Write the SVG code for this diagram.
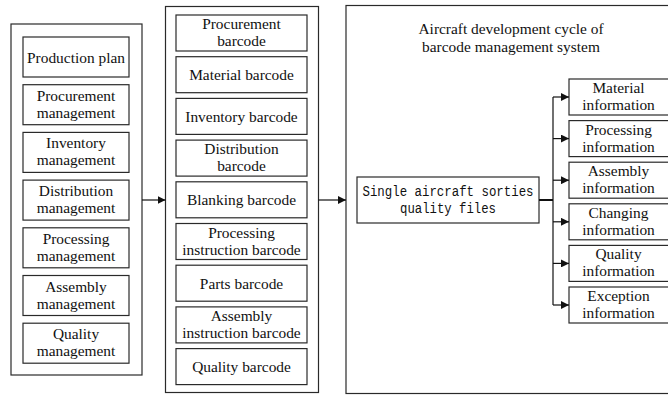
<svg xmlns="http://www.w3.org/2000/svg" width="668" height="396" viewBox="0 0 668 396">
  <style>
    .box { fill: #fff; stroke: #2a2a2a; stroke-width: 1.2; }
    .t { font-family: "Liberation Serif", "Times New Roman", serif; font-size: 15.4px; fill: #111; text-anchor: middle; }
    .m { font-family: "Liberation Mono", "Courier New", monospace; font-size: 14px; fill: #111; text-anchor: middle; }
    .link { fill: none; stroke: #111; stroke-width: 1.2; }
  </style>
  <defs>
    <marker id="arrow" viewBox="0 0 10 10" refX="10" refY="5" markerWidth="8" markerHeight="8" markerUnits="userSpaceOnUse" orient="auto">
      <path d="M0,0 L10,5 L0,10 z" fill="#111"/>
    </marker>
  </defs>
  <rect width="668" height="396" fill="#fff"/>

  <!-- management modules -->
  <g id="management">
    <rect class="box" x="11" y="24" width="131" height="351"/>
    <g id="production-plan"><rect class="box" x="23" y="37" width="106" height="40"/><text class="t" x="76" y="63">Production plan</text></g>
    <g id="procurement-management"><rect class="box" x="23" y="84.7" width="106" height="40"/><text class="t" x="76" y="100.7">Procurement</text><text class="t" x="76" y="117.7">management</text></g>
    <g id="inventory-management"><rect class="box" x="23" y="132.4" width="106" height="40"/><text class="t" x="76" y="148.4">Inventory</text><text class="t" x="76" y="165.4">management</text></g>
    <g id="distribution-management"><rect class="box" x="23" y="180.1" width="106" height="40"/><text class="t" x="76" y="196.1">Distribution</text><text class="t" x="76" y="213.1">management</text></g>
    <g id="processing-management"><rect class="box" x="23" y="227.8" width="106" height="40"/><text class="t" x="76" y="243.8">Processing</text><text class="t" x="76" y="260.8">management</text></g>
    <g id="assembly-management"><rect class="box" x="23" y="275.5" width="106" height="40"/><text class="t" x="76" y="291.5">Assembly</text><text class="t" x="76" y="308.5">management</text></g>
    <g id="quality-management"><rect class="box" x="23" y="323.2" width="106" height="40"/><text class="t" x="76" y="339.2">Quality</text><text class="t" x="76" y="356.2">management</text></g>
  </g>

  <!-- barcode types -->
  <g id="barcodes">
    <rect class="box" x="165.5" y="6.5" width="153" height="386"/>
    <g id="procurement-barcode"><rect class="box" x="176" y="15" width="131" height="36"/><text class="t" x="241.5" y="29">Procurement</text><text class="t" x="241.5" y="46">barcode</text></g>
    <g id="material-barcode"><rect class="box" x="176" y="56.7" width="131" height="36"/><text class="t" x="241.5" y="80.2">Material barcode</text></g>
    <g id="inventory-barcode"><rect class="box" x="176" y="98.4" width="131" height="36"/><text class="t" x="241.5" y="121.9">Inventory barcode</text></g>
    <g id="distribution-barcode"><rect class="box" x="176" y="140.1" width="131" height="36"/><text class="t" x="241.5" y="154.1">Distribution</text><text class="t" x="241.5" y="171.1">barcode</text></g>
    <g id="blanking-barcode"><rect class="box" x="176" y="181.8" width="131" height="36"/><text class="t" x="241.5" y="205.3">Blanking barcode</text></g>
    <g id="processing-instruction-barcode"><rect class="box" x="176" y="223.5" width="131" height="36"/><text class="t" x="241.5" y="237.5">Processing</text><text class="t" x="241.5" y="254.5">instruction barcode</text></g>
    <g id="parts-barcode"><rect class="box" x="176" y="265.2" width="131" height="36"/><text class="t" x="241.5" y="288.7">Parts barcode</text></g>
    <g id="assembly-instruction-barcode"><rect class="box" x="176" y="306.9" width="131" height="36"/><text class="t" x="241.5" y="320.9">Assembly</text><text class="t" x="241.5" y="337.9">instruction barcode</text></g>
    <g id="quality-barcode"><rect class="box" x="176" y="348.6" width="131" height="36"/><text class="t" x="241.5" y="372.1">Quality barcode</text></g>
  </g>

  <!-- barcode management system -->
  <g id="system">
    <rect class="box" x="346" y="5.5" width="330" height="388"/>
    <text class="t" x="511" y="34">Aircraft development cycle of</text>
    <text class="t" x="511" y="52">barcode management system</text>
  </g>
  <g id="quality-files">
    <rect class="box" x="357" y="177" width="182" height="46"/>
    <text class="m" x="448" y="195.5" textLength="171" lengthAdjust="spacingAndGlyphs">Single aircraft sorties</text>
    <text class="m" x="448" y="213" textLength="96" lengthAdjust="spacingAndGlyphs">quality files</text>
  </g>
  <g id="material-information"><rect class="box" x="569" y="79" width="110" height="36"/><text class="t" x="618.5" y="93">Material</text><text class="t" x="618.5" y="110">information</text></g>
  <g id="processing-information"><rect class="box" x="569" y="120.6" width="110" height="36"/><text class="t" x="618.5" y="134.6">Processing</text><text class="t" x="618.5" y="151.6">information</text></g>
  <g id="assembly-information"><rect class="box" x="569" y="162.2" width="110" height="36"/><text class="t" x="618.5" y="176.2">Assembly</text><text class="t" x="618.5" y="193.2">information</text></g>
  <g id="changing-information"><rect class="box" x="569" y="203.8" width="110" height="36"/><text class="t" x="618.5" y="217.8">Changing</text><text class="t" x="618.5" y="234.8">information</text></g>
  <g id="quality-information"><rect class="box" x="569" y="245.4" width="110" height="36"/><text class="t" x="618.5" y="259.4">Quality</text><text class="t" x="618.5" y="276.4">information</text></g>
  <g id="exception-information"><rect class="box" x="569" y="287" width="110" height="36"/><text class="t" x="618.5" y="301">Exception</text><text class="t" x="618.5" y="318">information</text></g>

  <!-- connectors -->
  <g id="connectors">
    <line class="link" x1="142" y1="200" x2="165.5" y2="200" marker-end="url(#arrow)"/>
    <line class="link" x1="318.5" y1="200" x2="346" y2="200" marker-end="url(#arrow)"/>
    <line class="link" x1="539" y1="200" x2="553" y2="200" style="stroke-width:2"/>
    <line class="link" x1="553" y1="97" x2="553" y2="305"/>
    <line class="link" x1="553" y1="97" x2="569" y2="97" marker-end="url(#arrow)"/>
    <line class="link" x1="553" y1="138.6" x2="569" y2="138.6" marker-end="url(#arrow)"/>
    <line class="link" x1="553" y1="180.2" x2="569" y2="180.2" marker-end="url(#arrow)"/>
    <line class="link" x1="553" y1="221.8" x2="569" y2="221.8" marker-end="url(#arrow)"/>
    <line class="link" x1="553" y1="263.4" x2="569" y2="263.4" marker-end="url(#arrow)"/>
    <line class="link" x1="553" y1="305" x2="569" y2="305" marker-end="url(#arrow)"/>
  </g>
</svg>
